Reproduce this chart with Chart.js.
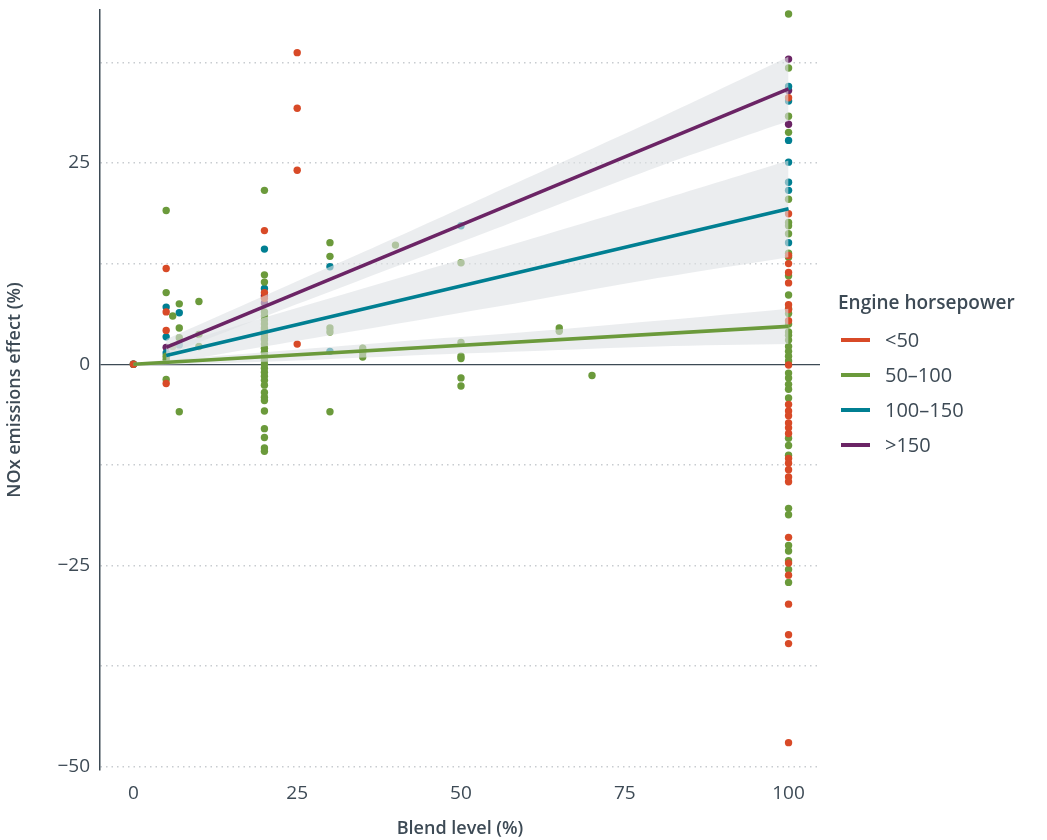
<!DOCTYPE html>
<html>
<head>
<meta charset="utf-8">
<script src="https://cdn.jsdelivr.net/npm/chart.js@4.4.1/dist/chart.umd.min.js"></script>
<style>
  body { margin: 0; background: #fff; font-family: "Open Sans", sans-serif; }
  #wrap { position: relative; width: 1047px; height: 840px; }
  #legend { position: absolute; left: 838px; top: 289px; color: #3d4a55; }
  #legend .title { font-weight: 600; font-size: 19px; line-height: 26px; margin-bottom: 7px; }
  #legend .item { display: flex; align-items: center; height: 35px; font-size: 20px; }
  #legend .swatch { width: 29px; height: 4px; margin: 0 15px 0 3px; }
</style>
</head>
<body>
<div id="wrap">
  <canvas id="chart"></canvas>
  <div id="legend"></div>
</div>
<script>
const xTicks = [0, 25, 50, 75, 100];
const yGrid = [-50, -37.5, -25, -12.5, 0, 12.5, 25, 37.5];

const seriesNames = ["<50", "50\u2013100", "100\u2013150", ">150"];
const seriesColors = ["#d84a27", "#6b9a3b", "#007f92", "#6b2465"];

// scatter points [blend level, NOx effect]
const under50 = [
  [0, 0], [5, 11.9], [5, 6.5], [5, 4.2], [5, -2.4],
  [20, 16.6], [20, 8.9], [20, 8.2],
  [25, 38.7], [25, 31.8], [25, 24.1], [25, 2.5],
  [100, 33.1], [100, 18.7], [100, 13.5], [100, 12.5], [100, 11.4], [100, 10.1], [100, 7.4],
  [100, 6.8], [100, 5.4], [100, -0.1], [100, -5.0], [100, -5.8], [100, -6.4], [100, -7.3],
  [100, -7.9], [100, -8.6], [100, -11.7], [100, -12.3], [100, -13.1], [100, -14.0], [100, -14.6],
  [100, -21.5], [100, -24.7], [100, -26.2], [100, -29.8], [100, -33.6], [100, -34.7], [100, -47.0],
];
const hp50to100 = [
  [0, 0], [5, 19.1], [5, 8.9], [5, 1.0], [5, 0.6], [5, -1.9],
  [6, 6.0], [6, 2.2], [7, 7.5], [7, 4.5], [7, 3.3], [7, -5.9],
  [10, 7.8], [10, 3.7], [10, 2.2],
  [20, 21.6], [20, 11.1], [20, 10.2], [20, 6.5], [20, 6.0], [20, 5.5], [20, 5.0], [20, 4.5],
  [20, 4.0], [20, 3.5], [20, 3.0], [20, 2.5], [20, 2.0], [20, 1.5], [20, 1.0], [20, 0.5],
  [20, 0.0], [20, -0.5], [20, -1.0], [20, -1.5], [20, -2.0], [20, -2.6], [20, -3.5],
  [20, -4.1], [20, -4.5], [20, -5.8], [20, -8.0], [20, -9.1], [20, -10.4], [20, -10.8],
  [30, 15.1], [30, 13.4], [30, 4.5], [30, 4.0], [30, -5.9],
  [35, 2.0], [35, 1.4], [35, 0.9], [40, 14.8],
  [50, 12.6], [50, 2.7], [50, 1.0], [50, 0.7], [50, -1.7], [50, -2.7],
  [65, 4.5], [65, 4.1], [70, -1.4],
  [100, 43.5], [100, 36.8], [100, 30.8], [100, 28.8], [100, 20.5], [100, 17.6], [100, 17.2],
  [100, 16.2], [100, 13.8], [100, 13.3], [100, 11.0], [100, 8.6], [100, 6.9], [100, 6.3],
  [100, 5.0], [100, 4.0], [100, 3.6], [100, 3.0], [100, 2.2], [100, 1.6], [100, 1.0],
  [100, 0.4], [100, -1.1], [100, -1.7], [100, -2.5], [100, -3.1], [100, -4.2], [100, -9.2],
  [100, -10.1], [100, -11.3], [100, -17.9], [100, -18.7], [100, -22.5], [100, -23.2],
  [100, -24.4], [100, -25.5], [100, -27.1],
];
const hp100to150 = [
  [0, 0], [5, 7.1], [5, 3.4], [5, 1.4], [7, 6.4], [7, 2.4],
  [20, 14.3], [20, 9.4], [20, 4.2], [20, 3.2], [30, 12.1], [30, 1.6], [50, 17.2],
  [100, 34.5], [100, 32.7], [100, 27.8], [100, 25.1], [100, 22.6], [100, 21.6], [100, 15.1],
];
const over150 = [
  [0, 0], [5, 2.1], [20, 8.5], [20, 7.6], [100, 37.9], [100, 34.0], [100, 29.8],
];

// fitted lines (ends) and confidence bands
const fitXFrom5 = [5, 100];
const fitXFrom0 = [0, 100];
const purpleFit = [2.1, 34.2];
const tealFit = [1.1, 19.3];
const greenFit = [0, 4.7];

const bandX5 = [5, 20, 40, 60, 80, 100];
const bandX0 = [0, 20, 40, 60, 80, 100];
const purpleUpper = [3.1, 8.5, 15.7, 23.1, 30.5, 38.2];
const purpleLower = [1.1, 5.9, 12.1, 18.3, 24.5, 30.2];
const tealUpper = [2.1, 5.8, 10.6, 15.4, 20.3, 25.3];
const tealLower = [0.1, 2.2, 5.0, 7.8, 10.7, 13.3];
const greenUpper = [0.2, 1.5, 2.8, 4.0, 5.4, 6.9];
const greenLower = [-0.2, 0.3, 1.0, 1.6, 2.2, 2.5];

const textColor = "#3d4a55";
const bandColor = "rgba(222, 225, 229, 0.6)";

function toPoints(pairs) {
  return pairs.map(([x, y]) => ({ x, y }));
}

function zip(xs, ys) {
  return xs.map((x, i) => ({ x, y: ys[i] }));
}

function scatterSet(pairs, idx) {
  return {
    type: "scatter",
    data: toPoints(pairs),
    backgroundColor: seriesColors[idx],
    borderWidth: 0,
    pointRadius: 3.7,
    order: 3,
  };
}

function bandSet(xs, ys, fill) {
  return {
    type: "line",
    data: zip(xs, ys),
    borderWidth: 0,
    pointRadius: 0,
    backgroundColor: bandColor,
    fill,
    tension: 0.3,
    order: 2,
  };
}

function fitSet(xs, ys, color) {
  return {
    type: "line",
    data: zip(xs, ys),
    borderColor: color,
    borderWidth: 3.6,
    pointRadius: 0,
    fill: false,
    order: 1,
  };
}

const datasets = [
  scatterSet(under50, 0),
  scatterSet(hp50to100, 1),
  scatterSet(hp100to150, 2),
  scatterSet(over150, 3),
  bandSet(bandX5, purpleUpper, "+1"),
  bandSet(bandX5, purpleLower, false),
  bandSet(bandX5, tealUpper, "+1"),
  bandSet(bandX5, tealLower, false),
  bandSet(bandX0, greenUpper, "+1"),
  bandSet(bandX0, greenLower, false),
  fitSet(fitXFrom5, purpleFit, seriesColors[3]),
  fitSet(fitXFrom5, tealFit, seriesColors[2]),
  fitSet(fitXFrom0, greenFit, seriesColors[1]),
];

new Chart(document.getElementById("chart"), {
  type: "scatter",
  data: { datasets },
  options: {
    responsive: true,
    maintainAspectRatio: false,
    animation: false,
    layout: { padding: { top: 10, right: 227, left: 0, bottom: 0 } },
    plugins: { legend: { display: false }, tooltip: { enabled: false } },
    scales: {
      x: {
        type: "linear",
        min: -5.1,
        max: 104.8,
        afterBuildTicks: (scale) => { scale.ticks = xTicks.map((value) => ({ value })); },
        afterFit: (scale) => { scale.height = 70; },
        grid: { display: false, drawTicks: false },
        border: { display: false },
        ticks: { color: textColor, padding: 12, font: { family: "Open Sans", size: 19 } },
        title: {
          display: true,
          text: "Blend level (%)",
          color: textColor,
          padding: { top: 0, bottom: 0 },
          font: { family: "Open Sans", size: 18, weight: "600" },
        },
      },
      y: {
        type: "linear",
        min: -50.4,
        max: 44,
        afterBuildTicks: (scale) => { scale.ticks = yGrid.map((value) => ({ value })); },
        afterFit: (scale) => { scale.width = 100; scale.paddingTop = 0; scale.paddingBottom = 0; },
        grid: {
          drawTicks: false,
          color: (ctx) => (ctx.tick && ctx.tick.value === 0 ? textColor : "#c8ccd0"),
          lineWidth: (ctx) => (ctx.tick && ctx.tick.value === 0 ? 1.3 : 1.5),
        },
        border: {
          display: true,
          color: textColor,
          width: 1.5,
          dash: (ctx) => (ctx.tick && ctx.tick.value === 0 ? [] : [1.5, 4]),
        },
        ticks: {
          color: textColor,
          padding: 10,
          font: { family: "Open Sans", size: 19 },
          callback: (value) => {
            if (value % 25 !== 0) return "";
            return value < 0 ? "\u2212" + Math.abs(value) : String(value);
          },
        },
        title: {
          display: true,
          text: "NOx emissions effect (%)",
          color: textColor,
          padding: { top: 4, bottom: 0 },
          font: { family: "Open Sans", size: 18, weight: "600" },
        },
      },
    },
  },
});

// legend
const legend = document.getElementById("legend");
legend.innerHTML = '<div class="title">Engine horsepower</div>' +
  seriesNames.map((name, i) =>
    `<div class="item"><span class="swatch" style="background:${seriesColors[i]}"></span>${name.replace("<", "&lt;").replace(">", "&gt;")}</div>`
  ).join("");
</script>
</body>
</html>
